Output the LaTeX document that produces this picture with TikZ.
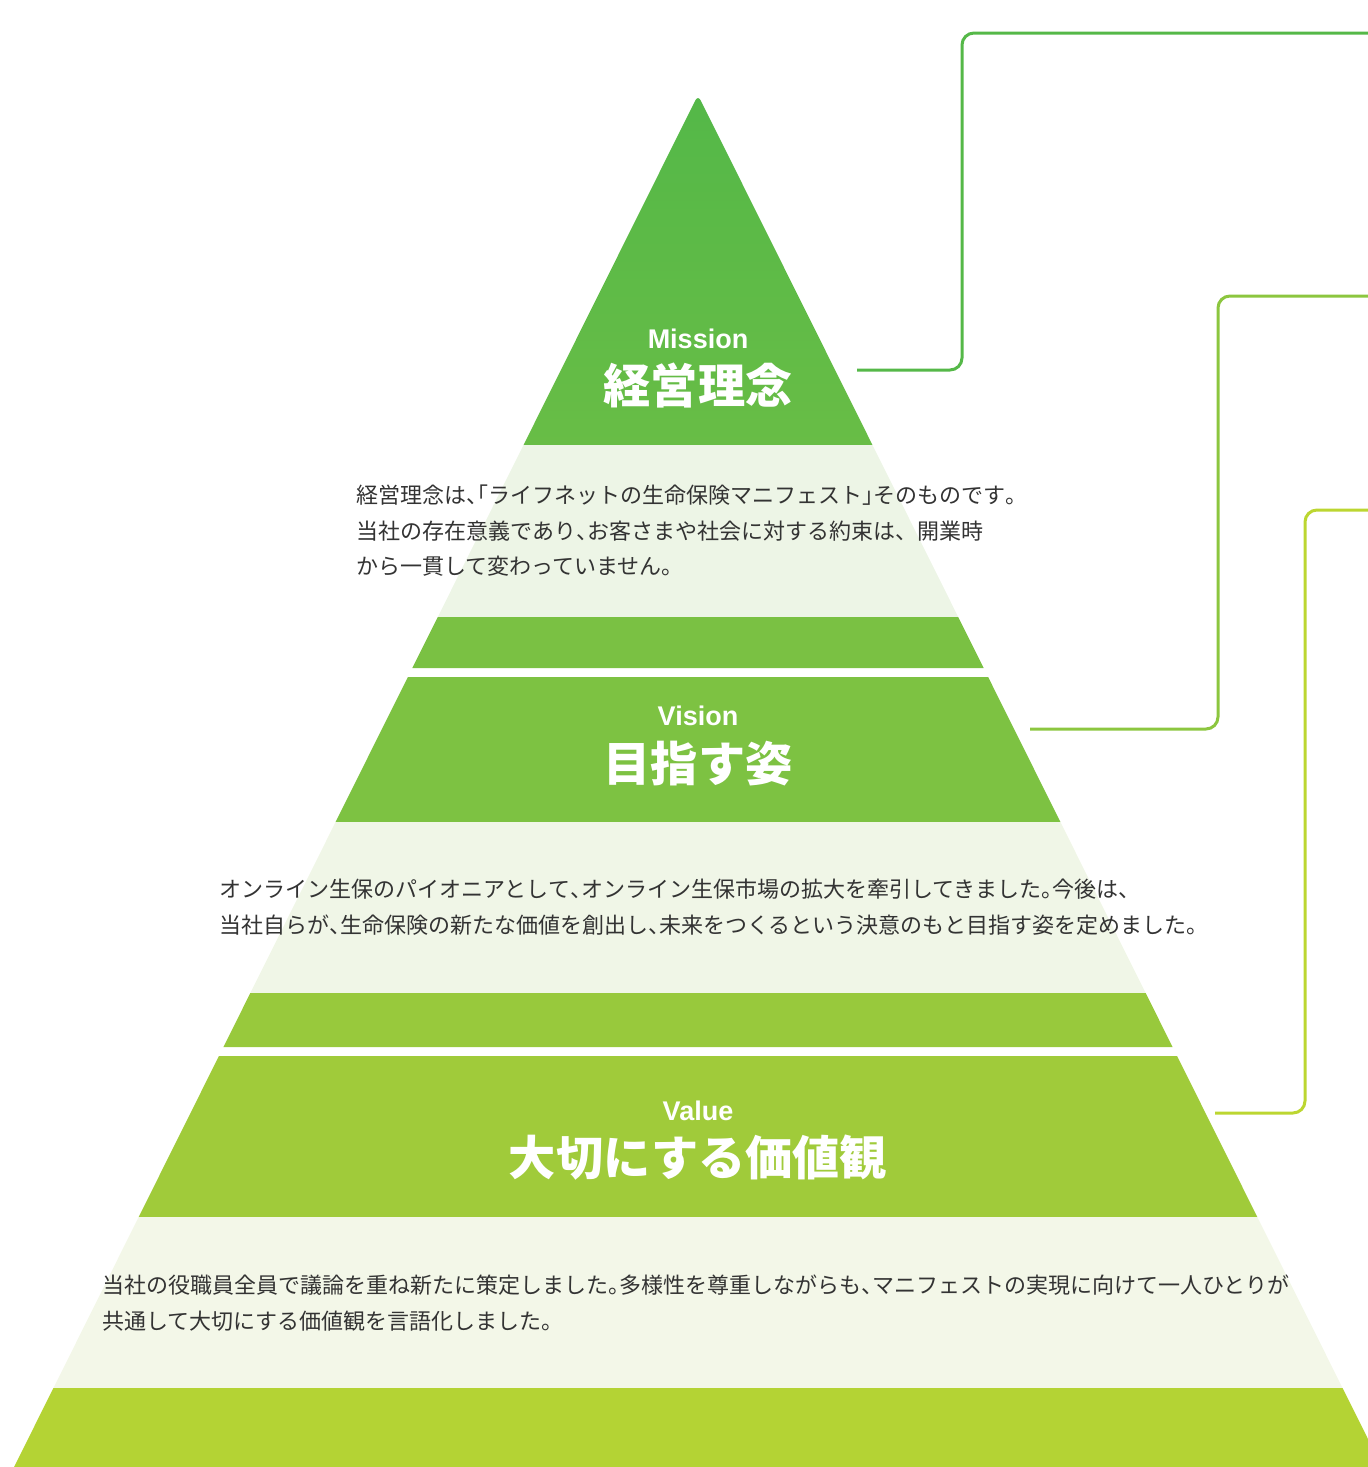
\documentclass[tikz,border=0pt]{standalone}
\usepackage{fontspec}
\newfontfamily\jp{Noto Sans CJK JP}
\newfontfamily\lat{Liberation Sans}
\newcommand{\hp}[1]{{\addfontfeature{CharacterWidth=AlternateHalf}#1}}
\definecolor{gA}{HTML}{54B848}
\definecolor{gB}{HTML}{68BD46}
\definecolor{gS1}{HTML}{7AC143}
\definecolor{gV1}{HTML}{7DC242}
\definecolor{gS2}{HTML}{98C93C}
\definecolor{gW1}{HTML}{A0CB3A}
\definecolor{gS3}{HTML}{B4D334}
\definecolor{pale1}{HTML}{EDF5E6}
\definecolor{pale2}{HTML}{F0F6E7}
\definecolor{pale3}{HTML}{F3F7E8}
\definecolor{lineA}{HTML}{55B848}
\definecolor{lineB}{HTML}{8CC63F}
\definecolor{lineC}{HTML}{BCD631}
\definecolor{txt}{HTML}{333333}
\newcommand{\pyrband}[3]{%
  \fill[#3] ({698-0.4985*(#1-95)},#1) -- ({698+0.4985*(#1-95)},#1)
    -- ({698+0.4985*(#2-95)},#2) -- ({698-0.4985*(#2-95)},#2) -- cycle;}
\begin{document}
\begin{tikzpicture}[x=0.5pt,y=-0.5pt,
  lab/.style={anchor=base, text=white, inner sep=0pt, font=\lat\bfseries\fontsize{13.5}{13.5}\selectfont},
  ttl/.style={anchor=base, text=white, inner sep=0pt, font=\jp\bfseries\fontsize{23.6}{23.6}\selectfont},
  body/.style={anchor=base west, text=txt, inner sep=0pt, font=\jp\fontsize{11.0}{11.0}\selectfont},
  conn/.style={line width=1.5pt, rounded corners=6pt}]
\useasboundingbox (0,0) rectangle (1368,1467);
\clip (0,0) rectangle (1368,1467);
% pyramid
\shade[top color=gA, bottom color=gB]
  ({698-0.4985*350},445) [rounded corners=3pt] -- (698,95) [sharp corners] -- ({698+0.4985*350},445) -- cycle;
\pyrband{445}{617}{pale1}
\pyrband{617}{668}{gS1}
\pyrband{677}{822}{gV1}
\pyrband{822}{993}{pale2}
\pyrband{993}{1047}{gS2}
\pyrband{1056}{1217}{gW1}
\pyrband{1217}{1388}{pale3}
\pyrband{1388}{1467}{gS3}
% titles
\node[lab] (mlab) at (698,348) {Mission};
\node[ttl] (mttl) at (698,403) {経営理念};
\node[lab] (vlab) at (698,725) {Vision};
\node[ttl] (vttl) at (698,781) {目指す姿};
\node[lab] (wlab) at (698,1120) {Value};
\node[ttl] (wttl) at (698,1175) {大切にする価値観};
% body texts
\node[body] (m1) at (356,503) {経営理念は\hp{、「}ライフネットの生命保険マニフェスト\hp{」}そのものです\hp{。}};
\node[body] (m2) at (356,539) {当社の存在意義であり\hp{、}お客さまや社会に対する約束は、開業時};
\node[body] (m3) at (356,574) {から一貫して変わっていません\hp{。}};
\node[body] (v1) at (219,897) {オンライン生保のパイオニアとして\hp{、}オンライン生保市場の拡大を牽引してきました\hp{。}今後は\hp{、}};
\node[body] (v2) at (219,933) {当社自らが\hp{、}生命保険の新たな価値を創出し\hp{、}未来をつくるという決意のもと目指す姿を定めました\hp{。}};
\node[body] (w1) at (102,1293) {当社の役職員全員で議論を重ね新たに策定しました\hp{。}多様性を尊重しながらも\hp{、}マニフェストの実現に向けて一人ひとりが};
\node[body] (w2) at (102,1329) {共通して大切にする価値観を言語化しました\hp{。}};
% connectors
\coordinate (ms) at (857,370);
\coordinate (mk) at (962,33);
\coordinate (me) at (1372,33);
\coordinate (vs) at (1030,729);
\coordinate (vk) at (1218,296);
\coordinate (ve) at (1372,296);
\coordinate (ws) at (1215,1113);
\coordinate (wk) at (1305,510);
\coordinate (we) at (1372,510);
\draw[conn, lineA] (ms) -| (mk) -- (me);
\draw[conn, lineB] (vs) -| (vk) -- (ve);
\draw[conn, lineC] (ws) -| (wk) -- (we);
\end{tikzpicture}
\end{document}
